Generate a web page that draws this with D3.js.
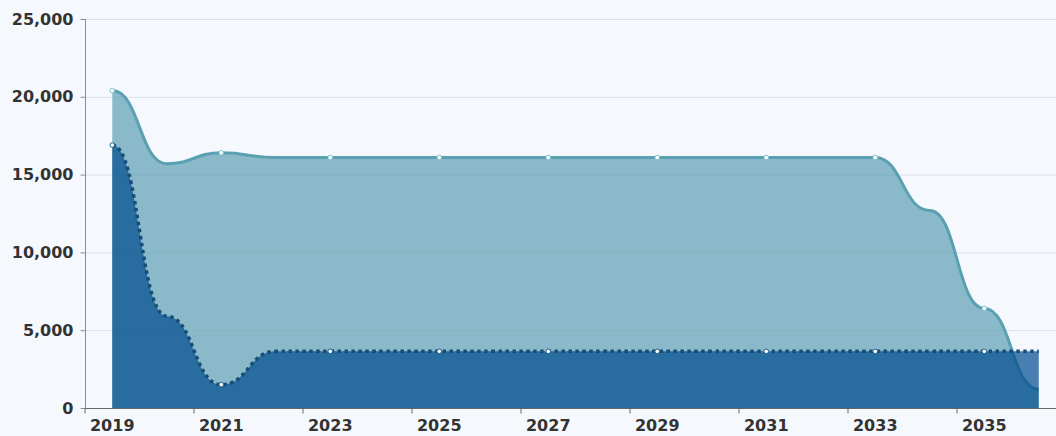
<!DOCTYPE html>
<html>
<head>
<meta charset="utf-8">
<script src="https://cdn.jsdelivr.net/npm/d3@7"></script>
<style>
  html, body { margin: 0; padding: 0; background: #f5f9fd; }
  svg { display: block; }
  .axis text { font-family: 'DejaVu Sans', sans-serif; font-weight: bold; font-size: 16px; fill: #333; }
</style>
</head>
<body>
<div id="root"></div>
<script>
const years = [2019, 2020, 2021, 2022, 2023, 2024, 2025, 2026, 2027, 2028, 2029, 2030, 2031, 2032, 2033, 2034, 2035, 2036]
const upperValues = [20400, 15700, 16400, 16100, 16100, 16100, 16100, 16100, 16100, 16100, 16100, 16100, 16100, 16100, 16100, 12700, 6400, 1200]
const lowerValues = [16900, 5900, 1500, 3640, 3640, 3640, 3640, 3640, 3640, 3640, 3640, 3640, 3640, 3640, 3640, 3640, 3640, 3640]
const xTickLabels = [2019, 2021, 2023, 2025, 2027, 2029, 2031, 2033, 2035]
const yTicks = [0, 5000, 10000, 15000, 20000, 25000]

const WIDTH = 1056
const HEIGHT = 436
const LEFT = 85
const TOP = 19
const BOTTOM = 408
const STEP = 54.5

const svg = d3.select('#root')
    .append('svg')
    .attr('width', WIDTH)
    .attr('height', HEIGHT)

const xScale = d3.scaleBand()
    .domain(years)
    .range([LEFT, LEFT + STEP * years.length])
    .padding(0)

const yScale = d3.scaleLinear()
    .domain([0, 25000])
    .range([BOTTOM, TOP])

const cx = (i) => xScale(years[i]) + xScale.bandwidth() / 2

// grid lines
svg.append('g')
    .selectAll('line')
    .data(yTicks.filter(d => d > 0))
    .enter()
    .append('line')
    .attr('x1', LEFT)
    .attr('x2', WIDTH)
    .attr('y1', d => yScale(d) + 0.5)
    .attr('y2', d => yScale(d) + 0.5)
    .attr('stroke', '#dde2e8')
    .attr('stroke-width', 1)

const area = (values) => d3.area()
    .x((_, i) => cx(i))
    .y0(yScale(0))
    .y1(d => yScale(d))
    .curve(d3.curveBumpX)(values)

const line = (values) => d3.line()
    .x((_, i) => cx(i))
    .y(d => yScale(d))
    .curve(d3.curveBumpX)(values)

// upper series
svg.append('path')
    .attr('d', area(upperValues))
    .attr('fill', '#5c9fb2')
    .attr('fill-opacity', 0.7)

svg.append('path')
    .attr('d', line(upperValues))
    .attr('fill', 'none')
    .attr('stroke', '#5aa0b2')
    .attr('stroke-width', 3)

// lower series
svg.append('path')
    .attr('d', area(lowerValues))
    .attr('fill', '#004c8f')
    .attr('fill-opacity', 0.7)

svg.append('path')
    .attr('d', line(lowerValues))
    .attr('fill', 'none')
    .attr('stroke', '#174c78')
    .attr('stroke-width', 3.5)
    .attr('stroke-dasharray', '3.5,3.5')

// markers on every other point
const markers = (values, color) => svg.append('g')
    .selectAll('circle')
    .data(values.map((v, i) => ({ v, i })).filter(d => d.i % 2 === 0))
    .enter()
    .append('circle')
    .attr('cx', d => cx(d.i))
    .attr('cy', d => yScale(d.v))
    .attr('r', 2.3)
    .attr('fill', '#ffffff')
    .attr('stroke', color)
    .attr('stroke-width', 1)

markers(upperValues, '#7cc0d0')
markers(lowerValues, '#1f5f8e')

// axes
const yAxis = d3.axisLeft(yScale)
    .tickValues(yTicks)
    .tickFormat(d3.format(','))
    .tickSize(5)
    .tickPadding(7)

const yG = svg.append('g')
    .attr('class', 'axis')
    .attr('transform', `translate(${LEFT + 0.5},0)`)
    .call(yAxis)
yG.select('.domain').attr('stroke', '#8a8f96').attr('d', `M0,${TOP}V${BOTTOM}`)
yG.selectAll('.tick line').attr('stroke', '#8a8f96')

const xAxis = d3.axisBottom(xScale)
    .tickValues(xTickLabels)
    .tickSize(5)
    .tickPadding(6)

const xG = svg.append('g')
    .attr('class', 'axis')
    .attr('transform', `translate(0,${BOTTOM + 0.5})`)
    .call(xAxis)
xG.select('.domain').attr('stroke', '#666').attr('d', `M${LEFT},0H${WIDTH}`)
xG.selectAll('.tick line')
    .attr('stroke', '#666')
    .attr('x1', -xScale.bandwidth() / 2)
    .attr('x2', -xScale.bandwidth() / 2)
</script>
</body>
</html>
